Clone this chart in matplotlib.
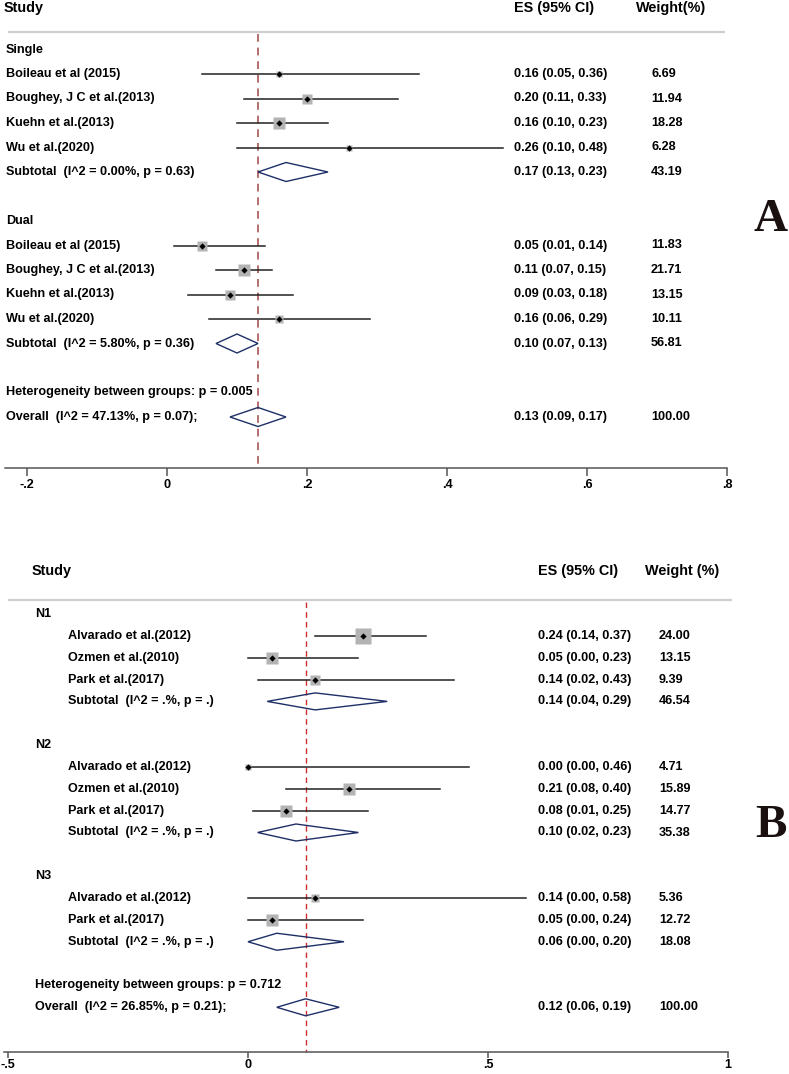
import matplotlib
matplotlib.use('Agg')
import matplotlib.pyplot as plt
from matplotlib.patches import Polygon
from matplotlib import transforms
import numpy as np

# panel A data
groups_a = ['Single', 'Dual']
names_a = [['Boileau et al (2015)', 'Boughey, J C et al.(2013)', 'Kuehn et al.(2013)', 'Wu et al.(2020)'],
           ['Boileau et al (2015)', 'Boughey, J C et al.(2013)', 'Kuehn et al.(2013)', 'Wu et al.(2020)']]
es_a = [[0.16, 0.20, 0.16, 0.26], [0.05, 0.11, 0.09, 0.16]]
lo_a = [[0.05, 0.11, 0.10, 0.10], [0.01, 0.07, 0.03, 0.06]]
hi_a = [[0.36, 0.33, 0.23, 0.48], [0.14, 0.15, 0.18, 0.29]]
w_a = [['6.69', '11.94', '18.28', '6.28'], ['11.83', '21.71', '13.15', '10.11']]
sub_es_a = [0.17, 0.10]
sub_lo_a = [0.13, 0.07]
sub_hi_a = [0.23, 0.13]
sub_w_a = ['43.19', '56.81']
sub_i2_a = ['0.00%', '5.80%']
sub_p_a = ['0.63', '0.36']
het_p_a = '0.005'
overall_a = (0.13, 0.09, 0.17)
overall_i2_a = ('47.13%', '0.07')
ticks_a = [-0.2, 0, 0.2, 0.4, 0.6, 0.8]
ticklabels_a = ['-.2', '0', '.2', '.4', '.6', '.8']

# panel B data
groups_b = ['N1', 'N2', 'N3']
names_b = [['Alvarado et al.(2012)', 'Ozmen et al.(2010)', 'Park et al.(2017)'],
           ['Alvarado et al.(2012)', 'Ozmen et al.(2010)', 'Park et al.(2017)'],
           ['Alvarado et al.(2012)', 'Park et al.(2017)']]
es_b = [[0.24, 0.05, 0.14], [0.00, 0.21, 0.08], [0.14, 0.05]]
lo_b = [[0.14, 0.00, 0.02], [0.00, 0.08, 0.01], [0.00, 0.00]]
hi_b = [[0.37, 0.23, 0.43], [0.46, 0.40, 0.25], [0.58, 0.24]]
w_b = [['24.00', '13.15', '9.39'], ['4.71', '15.89', '14.77'], ['5.36', '12.72']]
sub_es_b = [0.14, 0.10, 0.06]
sub_lo_b = [0.04, 0.02, 0.00]
sub_hi_b = [0.29, 0.23, 0.20]
sub_w_b = ['46.54', '35.38', '18.08']
sub_i2_b = ['.%', '.%', '.%']
sub_p_b = ['.', '.', '.']
het_p_b = '0.712'
overall_b = (0.12, 0.06, 0.19)
overall_i2_b = ('26.85%', '0.21')
ticks_b = [-0.5, 0, 0.5, 1]
ticklabels_b = ['-.5', '0', '.5', '1']

W, H = 789, 1074
plt.rcParams['font.family'] = ['Liberation Sans', 'DejaVu Sans']
plt.rcParams['font.weight'] = 'bold'
fig = plt.figure(figsize=(W / 100, H / 100), dpi=100)

BODY = 9.1
HEAD = 10.4


def panel(ax, cfg, groups, names, es, lo, hi, w, s_es, s_lo, s_hi, s_w, s_i2, s_p,
          het_p, overall, overall_i2, ticks, ticklabels):
    x0, scale = cfg['zero'], cfg['scale']
    ax.set_xlim(-x0 / scale, (W - x0) / scale)
    ax.set_ylim(cfg['ybot'], cfg['ytop'])
    tr = transforms.blended_transform_factory(ax.transAxes, ax.transData)
    px = lambda p: p / W

    ax.text(px(cfg['study_x']), cfg['head_y'], 'Study', fontsize=HEAD, va='center', transform=tr)
    ax.text(px(cfg['es_x']), cfg['head_y'], 'ES (95% CI)', fontsize=HEAD, va='center', transform=tr)
    ax.text(px(cfg['wh_x']), cfg['head_y'], cfg['wlabel'], fontsize=HEAD, va='center', transform=tr)
    ax.plot([px(8), px(cfg['sep_end'])], [cfg['sep_y']] * 2, color='#cfcfcf', lw=1.6,
            transform=tr, solid_capstyle='butt')

    y0, step = cfg['row0'], cfg['step']
    r = 0
    for g in range(len(groups)):
        ax.text(px(cfg['grp_x']), y0 + r * step, groups[g], fontsize=BODY, va='center', transform=tr)
        r += 1
        for i in range(len(names[g])):
            y = y0 + r * step
            ax.text(px(cfg['name_x']), y, names[g][i], fontsize=BODY, va='center', transform=tr)
            ax.plot([lo[g][i], hi[g][i]], [y, y], color='#222222', lw=1.1, zorder=2)
            side = cfg['msize'] * np.sqrt(float(w[g][i])) * 0.72
            ax.plot(es[g][i], y, marker='s', ms=side, color='#b3b3b3', mec='none', zorder=3)
            ax.plot(es[g][i], y, marker='D', ms=3.2, color='black', mec='none', zorder=4)
            ax.text(px(cfg['es_x']), y, '%.2f (%.2f, %.2f)' % (es[g][i], lo[g][i], hi[g][i]),
                    fontsize=BODY, va='center', transform=tr)
            ax.text(px(cfg['w_x']), y, w[g][i], fontsize=BODY, va='center', transform=tr)
            r += 1
        y = y0 + r * step
        ax.text(px(cfg['name_x']), y, 'Subtotal  (I^2 = %s, p = %s)' % (s_i2[g], s_p[g]),
                fontsize=BODY, va='center', transform=tr)
        hh = cfg['dh']
        ax.add_patch(Polygon([[s_lo[g], y], [s_es[g], y - hh], [s_hi[g], y], [s_es[g], y + hh]],
                             closed=True, fill=False, ec='#1d2f66', lw=1.0, zorder=3))
        ax.text(px(cfg['es_x']), y, '%.2f (%.2f, %.2f)' % (s_es[g], s_lo[g], s_hi[g]),
                fontsize=BODY, va='center', transform=tr)
        ax.text(px(cfg['w_x']), y, s_w[g], fontsize=BODY, va='center', transform=tr)
        r += 2

    y = y0 + r * step
    ax.text(px(cfg['grp_x']), y, 'Heterogeneity between groups: p = ' + het_p,
            fontsize=BODY, va='center', transform=tr)
    r += 1
    y = y0 + r * step
    ax.text(px(cfg['grp_x']), y, 'Overall  (I^2 = %s, p = %s);' % overall_i2,
            fontsize=BODY, va='center', transform=tr)
    e, l, h = overall
    hh = cfg['dh']
    ax.add_patch(Polygon([[l, y], [e, y - hh], [h, y], [e, y + hh]],
                         closed=True, fill=False, ec='#1d2f66', lw=1.0, zorder=3))
    ax.text(px(cfg['es_x']), y, '%.2f (%.2f, %.2f)' % overall, fontsize=BODY, va='center', transform=tr)
    ax.text(px(cfg['w_x']), y, '100.00', fontsize=BODY, va='center', transform=tr)

    # reference line at overall estimate
    ax.plot([e, e], [cfg['sep_y'] + 1.5, cfg['axis_y']], color=cfg['dcolor'], lw=cfg['dlw'],
            dashes=(4, 3), zorder=1)

    for s in ['top', 'right', 'left']:
        ax.spines[s].set_visible(False)
    ax.spines['bottom'].set_position(('data', cfg['axis_y']))
    ax.spines['bottom'].set_bounds(cfg['ax_lo'], cfg['ax_hi'])
    ax.spines['bottom'].set_color('#555555')
    ax.spines['bottom'].set_linewidth(1.1)
    ax.set_yticks([])
    ax.set_xticks(ticks)
    ax.set_xticklabels(ticklabels, fontsize=BODY, fontweight='bold')
    ax.tick_params(axis='x', direction='out', length=cfg['tlen'], width=1.1, color='#555555',
                   pad=cfg['tpad'])
    ax.patch.set_alpha(0)


cfg_a = dict(zero=167, scale=700, ytop=0, ybot=540, head_y=8, study_x=4, es_x=514, wh_x=636,
             w_x=651, wlabel='Weight(%)', sep_y=32, sep_end=725, row0=49.5, step=24.5,
             grp_x=6, name_x=6, msize=2.65, dh=9.5, axis_y=468, ax_lo=-0.232, ax_hi=0.8,
             dcolor='#b46e6e', dlw=1.4, tlen=5.8, tpad=2)
cfg_b = dict(zero=248, scale=480, ytop=540, ybot=1074, head_y=571, study_x=32, es_x=538, wh_x=645,
             w_x=659, wlabel='Weight (%)', sep_y=600, sep_end=732, row0=614, step=21.85,
             grp_x=35, name_x=68, msize=3.2, dh=8.5, axis_y=1052, ax_lo=-0.508, ax_hi=1.0,
             dcolor='#cc2e2e', dlw=1.0, tlen=4.5, tpad=0.5)

ax_a = fig.add_axes([0, (H - 540) / H, 1, 540 / H])
panel(ax_a, cfg_a, groups_a, names_a, es_a, lo_a, hi_a, w_a, sub_es_a, sub_lo_a, sub_hi_a,
      sub_w_a, sub_i2_a, sub_p_a, het_p_a, overall_a, overall_i2_a, ticks_a, ticklabels_a)
ax_b = fig.add_axes([0, 0, 1, 534 / H])
panel(ax_b, cfg_b, groups_b, names_b, es_b, lo_b, hi_b, w_b, sub_es_b, sub_lo_b, sub_hi_b,
      sub_w_b, sub_i2_b, sub_p_b, het_p_b, overall_b, overall_i2_b, ticks_b, ticklabels_b)

fig.text(771 / W, 1 - 220 / H, 'A', fontsize=34, fontweight='bold', family='Liberation Serif',
         ha='center', va='center', color='#1a1010')
fig.text(771 / W, 1 - 826 / H, 'B', fontsize=34, fontweight='bold', family='Liberation Serif',
         ha='center', va='center', color='#1a1010')

fig.savefig('out.png', dpi=100)
